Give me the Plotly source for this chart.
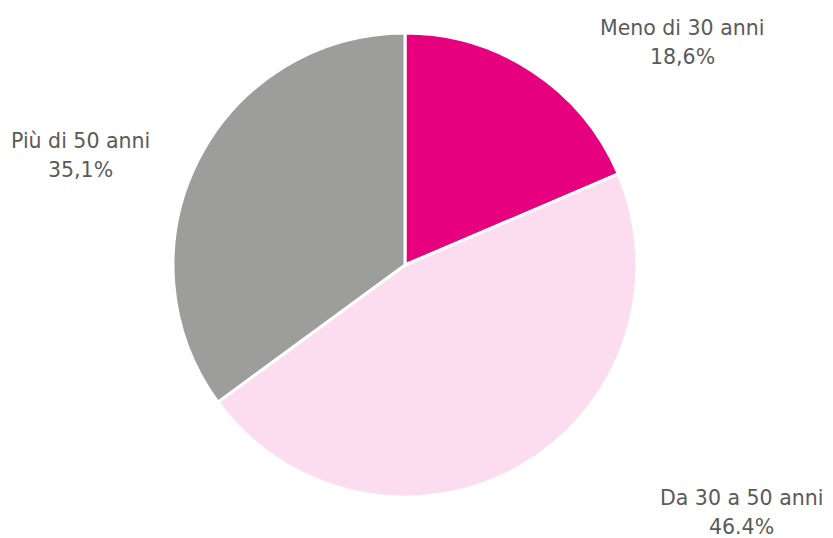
import plotly.graph_objects as go

# --- data
labels = ["Meno di 30 anni", "Da 30 a 50 anni", "Più di 50 anni"]
values = [18.6, 46.4, 35.1]
pct_text = ["18,6%", "46.4%", "35,1%"]
colors = ["#E6007E", "#FCDDEF", "#9D9D9C"]

W, H = 833, 538
OFF = 8  # page body margin

# label anchor points in window pixels (centre of first line)
label_px = [682, 741, 80]
label_py = [28, 498, 141]


def px(x):
    return (x - OFF) / W


def py(y):
    return 1 - (y - OFF) / H


fig = go.Figure()
fig.add_trace(go.Pie(
    labels=labels,
    values=values,
    sort=False,
    direction="clockwise",
    rotation=0,
    textinfo="none",
    hoverinfo="label+percent",
    marker=dict(colors=colors, line=dict(color="white", width=3)),
    domain=dict(x=[px(173), px(637)], y=[py(497), py(33)]),
    showlegend=False,
))

font = dict(family="DejaVu Sans, sans-serif", size=20.5, color="#5a5a5a")
for lab, pct, x, y in zip(labels, pct_text, label_px, label_py):
    fig.add_annotation(x=px(x), y=py(y), xref="paper", yref="paper", text=lab,
                       showarrow=False, font=font, xanchor="center", yanchor="middle")
    fig.add_annotation(x=px(x), y=py(y + 29), xref="paper", yref="paper", text=pct,
                       showarrow=False, font=font, xanchor="center", yanchor="middle")

fig.update_layout(
    width=W,
    height=H,
    margin=dict(l=0, r=0, t=0, b=0),
    paper_bgcolor="white",
    plot_bgcolor="white",
)

fig.write_html("out.html")
